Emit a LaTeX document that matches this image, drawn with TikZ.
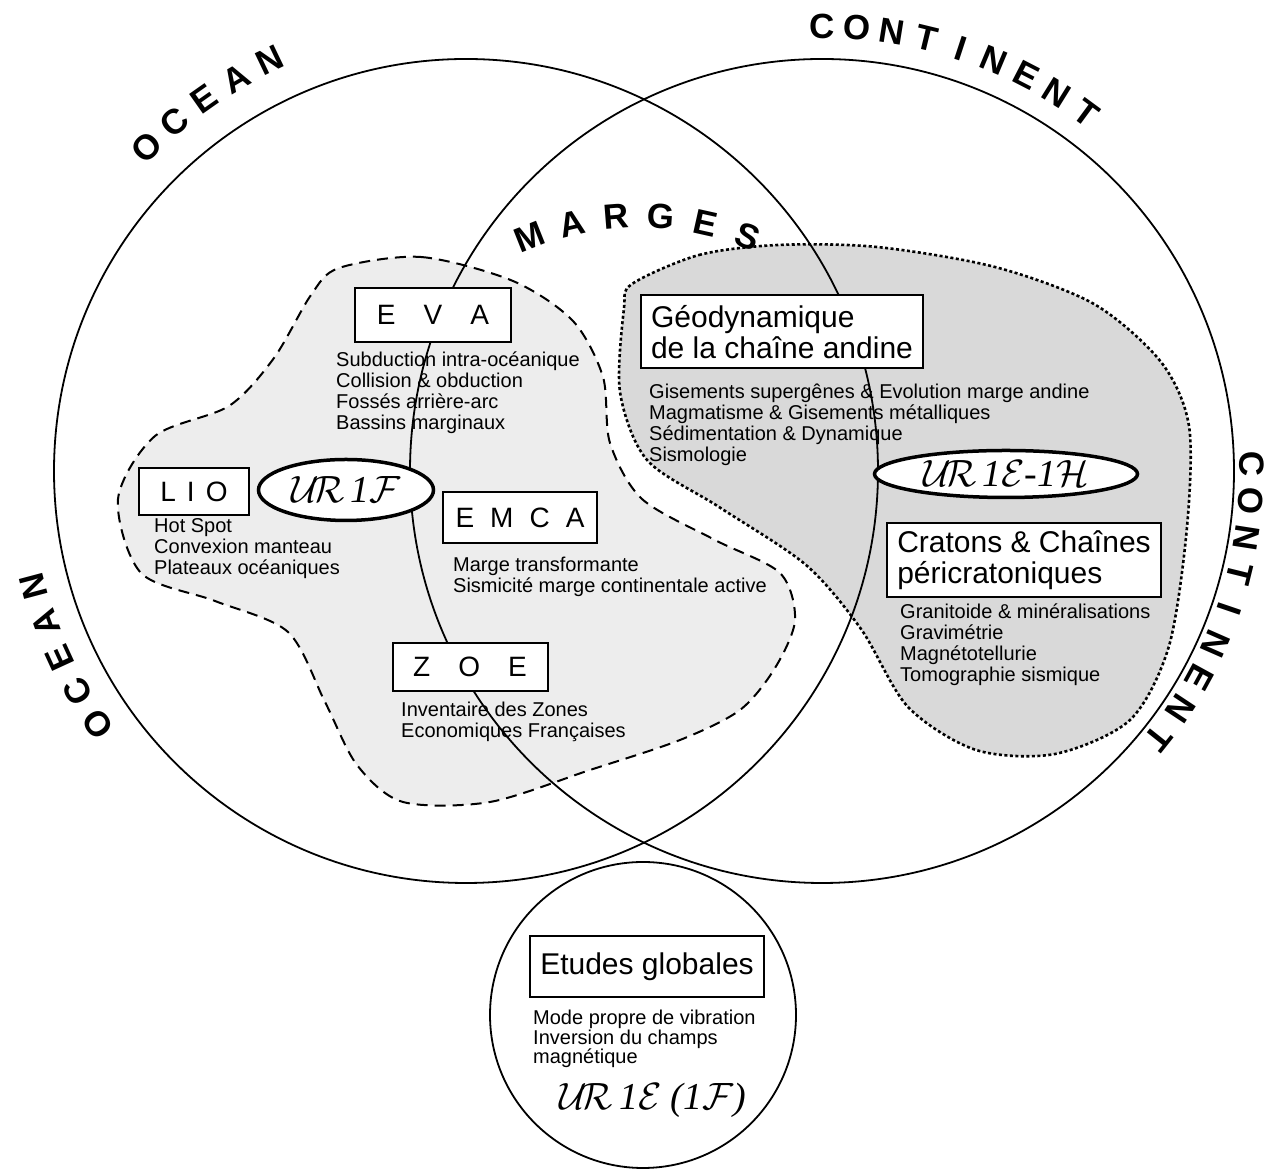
\documentclass[tikz,border=0pt]{standalone}
\usepackage{fix-cm}
\usepackage{fontspec}
\setmainfont{Liberation Sans}
\newfontfamily\romit{Liberation Serif}
\usetikzlibrary{positioning,calc,shapes.geometric}
\newcommand{\ur}[1]{$\mathcal{U}\mkern-3mu\mathcal{R}$\hspace{6pt}{\romit\itshape #1}}

\begin{document}
\begin{tikzpicture}[x=1pt,y=1pt,font=\fontsize{20}{21}\selectfont,
  circ/.style={line width=1.8pt},
  ufzone/.style={fill=black!7, draw, line width=2pt, dash pattern=on 11pt off 7pt},
  ehzone/.style={fill=black!15, draw, line width=2.6pt, dash pattern=on 3pt off 2.5pt},
  labbox/.style={draw, fill=white, line width=2pt, inner sep=0pt, font=\fontsize{28}{30}\selectfont},
  bigbox/.style={draw, fill=white, line width=2pt, align=left, inner xsep=10pt, inner ysep=2pt,
    font=\fontsize{30}{31}\selectfont},
  urlab/.style={ellipse, draw, fill=white, line width=3.5pt, inner sep=0pt,
    font=\fontsize{38}{40}\selectfont},
  items/.style={anchor=north west, align=left, inner sep=0pt},
  arclet/.style={inner sep=0pt, font=\fontsize{35}{35}\selectfont\bfseries}]
  \useasboundingbox (0,0) rectangle (1270,1172);
  \coordinate (oc) at (466,701);
  \coordinate (co) at (822,701);
  \coordinate (gl) at (643,157);

  % shaded zones of the two units
  \filldraw[ufzone] plot[smooth cycle] coordinates {
    (339,904) (421,915) (513,891) (573,851) (603,795) (610,729) (642,673)
    (715,632) (780,599) (795,552) (775,504) (740,462) (680,432) (590,402)
    (490,370) (403,370) (357,407) (325,470) (288,540) (215,571) (141,599)
    (118,673) (155,736) (229,766) (274,814) (311,877)};
  \filldraw[ehzone] plot[smooth cycle] coordinates {
    (632,888) (699,917) (778,927) (877,925) (995,905) (1094,868) (1161,810)
    (1189,746) (1187,645) (1169,526) (1130,452) (1055,418) (976,422)
    (908,465) (861,543) (806,607) (719,665) (647,712) (620,780) (624,864)};

  % the three domains
  \draw[circ] (oc) circle (412);
  \draw[circ] (co) circle (412);
  \draw[circ] (gl) circle (153);

  % lettering round the circles
  \foreach \ch [count=\i from 0, evaluate=\i as \a using 134.6-4.75*\i] in {O,C,E,A,N}
    \node[arclet, rotate=\a-90] (ocTop\i) at ($(oc)+(\a:455)$) {\ch};
  \foreach \ch [count=\i from 0, evaluate=\i as \a using 214.5-4.9*\i] in {O,C,E,A,N}
    \node[arclet, rotate=\a-90] (ocSide\i) at ($(oc)+(\a:447)$) {\ch};
  \foreach \ch [count=\i from 0, evaluate=\i as \a using 90-4.55*\i] in {C,O,N,T,I,N,E,N,T}
    \node[arclet, rotate=\a-90] (coTop\i) at ($(co)+(\a:445)$) {\ch};
  \foreach \ch [count=\i from 0, evaluate=\i as \a using 1-4.94*\i] in {C,O,N,T,I,N,E,N,T}
    \node[arclet, rotate=\a-90] (coSide\i) at ($(co)+(\a:430)$) {\ch};
  \foreach \ch [count=\i from 0, evaluate=\i as \a using 111.7-8.58*\i] in {M,A,R,G,E,S}
    \node[arclet, rotate=\a-90] (mar\i) at ($(640,658)+(\a:298)$) {\ch};

  % UR 1F
  \node[labbox, minimum width=156, minimum height=54] (eva) at (433,857) {E\hspace{28pt}V\hspace{28pt}A};
  \node[items] (evaTxt) at (336,820) {Subduction intra-océanique\\Collision \& obduction\\
    Fossés arrière-arc\\Bassins marginaux};
  \node[labbox, minimum width=110, minimum height=47] (lio) at (194,680) {L\hspace{11pt}I\hspace{11pt}O};
  \node[items] (lioTxt) at (154,654) {Hot Spot\\Convexion manteau\\Plateaux océaniques};
  \node[urlab, minimum width=175, minimum height=61] (urF) at (346,682) {\ur{1$\mathcal{F}$}};
  \node[labbox, minimum width=154, minimum height=51] (emca) at (520,654)
    {E\hspace{16pt}M\hspace{16pt}C\hspace{16pt}A};
  \node[items] (emcaTxt) at (453,615) {Marge transformante\\Sismicité marge continentale active};
  \node[labbox, minimum width=155, minimum height=48] (zoe) at (470,505) {Z\hspace{28pt}O\hspace{28pt}E};
  \node[items] (zoeTxt) at (401,470) {Inventaire des Zones\\Economiques Françaises};

  % UR 1E-1H
  \node[bigbox, minimum height=73] (andes) at (782,840) {Géodynamique\\de la chaîne andine};
  \node[items] (andesTxt) at (649,788) {Gisements supergênes \& Evolution marge andine\\
    Magmatisme \& Gisements métalliques\\Sédimentation \& Dynamique\\Sismologie};
  \node[urlab, minimum width=263, minimum height=47] (urEH) at (1006,698)
    {\ur{1$\mathcal{E}$-1$\mathcal{H}$}};
  \node[bigbox, minimum height=74] (craton) at (1024,612) {Cratons \& Chaînes\\péricratoniques};
  \node[items] (cratonTxt) at (900,568) {Granitoide \& minéralisations\\Gravimétrie\\
    Magnétotellurie\\Tomographie sismique};

  % global studies
  \node[bigbox, minimum height=61] (glob) at (647,205) {Etudes globales};
  \node[items, font=\fontsize{20}{19.5}\selectfont] (globTxt) at (533,162)
    {Mode propre de vibration\\Inversion du champs\\magnétique};
  \node[inner sep=0pt, font=\fontsize{38}{40}\selectfont] (urE) at (653,72)
    {\ur{1$\mathcal{E}$ (1$\mathcal{F}$)}};
\end{tikzpicture}
\end{document}
